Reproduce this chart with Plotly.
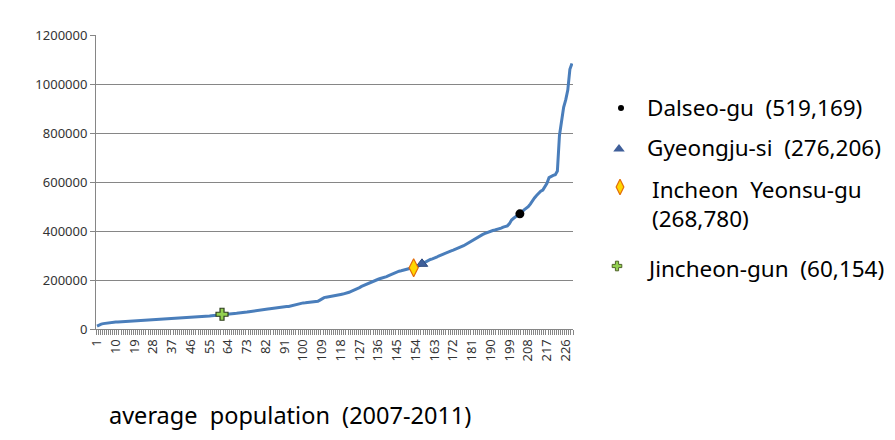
import plotly.graph_objects as go

# ---- data ----
population = [
    12000, 17000, 20000, 22000, 23500, 25000, 26500, 27500, 28000, 28500,
    29000, 29500, 30000, 30500, 31000, 31500, 32000, 32500, 33000, 33500,
    34000, 34500, 35000, 35300, 35800, 36200, 36700, 37200, 37600, 38100,
    38600, 39000, 39500, 40000, 40500, 41000, 41500, 42000, 42500, 43000,
    43500, 44000, 44500, 45000, 45500, 46200, 47000, 47800, 48500, 49300,
    50200, 51000, 51800, 52600, 53500, 54500, 55500, 56500, 57500, 58800,
    60154, 61000, 61500, 62000, 62500, 63000, 63500, 64000, 64500, 65000,
    66000, 67500, 69000, 70500, 72000, 73500, 75000, 76500, 77500, 78500,
    79500, 80500, 81500, 82500, 84000, 85500, 87000, 88500, 90000, 90500,
    91000, 91500, 92000, 94000, 97000, 100000, 103000, 105000, 106000, 106500,
    107000, 107500, 108000, 109000, 110000, 111000, 113000, 118000, 124000, 128000,
    130000, 132000, 133000, 134000, 135000, 137000, 139000, 141000, 142500, 144000,
    147000, 150000, 154000, 157000, 160000, 164000, 169000, 174000, 178000, 181000,
    184000, 187000, 191000, 195000, 199000, 203000, 206000, 208000, 211000, 214000,
    218000, 222000, 226000, 230000, 233000, 236000, 238000, 240000, 242000, 244000,
    246000, 248000, 250000, 252000, 256000, 261000, 266000, 270000, 274000, 280000,
    284000, 286000, 288000, 293000, 298000, 302000, 304000, 307000, 311000, 315000,
    319000, 322000, 325000, 329000, 333000, 336000, 340000, 345000, 350000, 356000,
    362000, 368000, 373000, 377000, 381000, 385000, 389000, 393000, 396000, 399000,
    402000, 404000, 406000, 408000, 412000, 416000, 419000, 421000, 430000, 445000,
    452000, 458000, 464000, 470000, 478000, 486000, 493000, 499000, 510000, 525000,
    535000, 545000, 555000, 562000, 567000, 580000, 595000, 618000, 624000, 627000,
    630000, 645000, 790000, 840000, 905000, 935000, 975000, 1060000, 1084000,
]
rank = list(range(1, len(population) + 1))

highlight_names = ["Dalseo-gu", "Gyeongju-si", "Incheon Yeonsu-gu", "Jincheon-gun"]
highlight_rank = [204, 157, 153, 61]
highlight_labels = ["Dalseo-gu  (519,169)", "Gyeongju-si  (276,206)",
                    "Incheon  Yeonsu-gu<br>(268,780)", "Jincheon-gun  (60,154)"]
axis_title = "average  population  (2007-2011)"
tick_labels = [str(v) for v in range(1, 229, 9)]
y_ticks = [0, 200000, 400000, 600000, 800000, 1000000, 1200000]

# ---- layout geometry (pixels, compensating the page's 8px body margin) ----
W, H = 895, 440
OFF = 8
PL, PR, PT, PB = 96 - OFF, 573 - OFF, 35 - OFF, 329 - OFF

# ---- styles ----
marker_styles = [
    dict(symbol="circle", size=9, color="#000000", line=dict(color="#000000", width=0)),
    dict(symbol="triangle-up", size=10, color="#3F5F9A", line=dict(color="#2E4A7D", width=1)),
    dict(symbol="diamond-tall", size=13, color="#FFD700", line=dict(color="#E36C09", width=1.2)),
    dict(symbol="cross", size=10, color="#92D050", line=dict(color="#2F3F1F", width=1.2)),
]
legend_marker_styles = [
    dict(symbol="circle", size=6, color="#000000", line=dict(width=0)),
    dict(symbol="triangle-up", size=10, color="#3F5F9A", line=dict(width=0)),
    dict(symbol="diamond-tall", size=11, color="#FFD700", line=dict(color="#E36C09", width=1.2)),
    dict(symbol="cross", size=8, color="#92D050", line=dict(color="#4F6228", width=1)),
]
legend_marker_xy = [(621, 108), (619, 149), (620, 187), (617, 266)]
legend_text_xy = [(645, 107), (645, 147), (650, 204), (645, 268)]
title_xy = (107, 415)

fig = go.Figure()
fig.add_trace(go.Scatter(
    x=rank, y=population, mode="lines",
    line=dict(color="#4A7EBB", width=3), hoverinfo="skip", showlegend=False,
))
for name, r, st in zip(highlight_names, highlight_rank, marker_styles):
    fig.add_trace(go.Scatter(
        x=[r], y=[population[r - 1]], mode="markers", name=name,
        marker=st, showlegend=False,
    ))

# custom legend markers in a pixel-coordinate overlay subplot
for (px, py), st in zip(legend_marker_xy, legend_marker_styles):
    fig.add_trace(go.Scatter(
        x=[px - OFF], y=[py - OFF], xaxis="x2", yaxis="y2", mode="markers", marker=st,
        showlegend=False, hoverinfo="skip",
    ))

def sp(t):
    return t.replace("  ", "\u00a0\u00a0")

annotations = []
for (px, py), txt in zip(legend_text_xy, highlight_labels):
    annotations.append(dict(
        x=px - OFF, y=py - OFF, xref="x2", yref="y2", text=sp(txt),
        showarrow=False, xanchor="left", yanchor="middle", align="left",
        font=dict(family="Noto Sans", size=22.5, color="#000000"),
    ))
annotations.append(dict(
    x=title_xy[0] - OFF, y=title_xy[1] - OFF, xref="x2", yref="y2", text=sp(axis_title),
    showarrow=False, xanchor="left", yanchor="middle",
    font=dict(family="Noto Sans", size=23.5, color="#000000"),
))

fig.update_layout(
    width=W, height=H,
    margin=dict(l=0, r=0, t=0, b=0, pad=0),
    paper_bgcolor="white", plot_bgcolor="rgba(0,0,0,0)",
    font=dict(family="Noto Sans", color="#333333"),
    annotations=annotations,
    xaxis=dict(
        domain=[PL / W, PR / W], anchor="y", automargin=False,
        range=[0.5, len(population) + 0.5],
        tickmode="array", tickvals=[int(t) for t in tick_labels], ticktext=tick_labels,
        tickangle=-90, ticks="", showgrid=False, zeroline=False,
        showline=True, linecolor="#868686", linewidth=1,
        ticklabelstandoff=4,
        tickfont=dict(family="Noto Sans", size=13, color="#333333"),
        minor=dict(ticks="outside", tick0=0.5, dtick=1, ticklen=5,
                   tickcolor="#868686", showgrid=False),
    ),
    yaxis=dict(
        domain=[(H - PB) / H, (H - PT) / H], anchor="x", automargin=False,
        range=[0, 1200000], tickmode="array", tickvals=y_ticks,
        ticktext=[str(v) for v in y_ticks],
        showgrid=True, gridcolor="#868686", gridwidth=1, zeroline=False,
        showline=True, linecolor="#868686", linewidth=1,
        ticks="outside", ticklen=5, tickcolor="#868686",
        tickfont=dict(family="Noto Sans", size=13, color="#333333"),
    ),
    xaxis2=dict(domain=[0, 1], anchor="y2", range=[0, W], visible=False, fixedrange=True),
    yaxis2=dict(domain=[0, 1], anchor="x2", range=[H, 0], visible=False, fixedrange=True),
)

fig.write_html("out.html")
